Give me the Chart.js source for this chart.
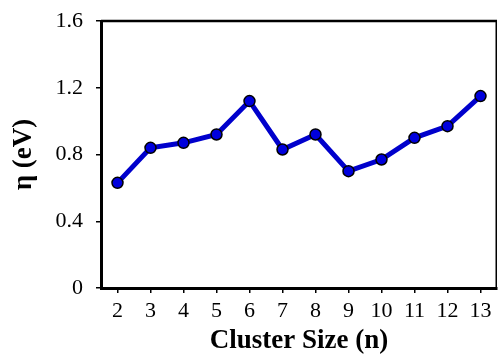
<!DOCTYPE html>
<html>
<head>
<meta charset="utf-8">
<script src="https://cdn.jsdelivr.net/npm/chart.js@4"></script>
<style>
  html, body { margin: 0; padding: 0; background: #fff; }
  #wrap { width: 498px; height: 357px; }
</style>
</head>
<body>
<div id="wrap"><canvas id="eta"></canvas></div>
<script>
const clusterSizes = ['2', '3', '4', '5', '6', '7', '8', '9', '10', '11', '12', '13'];
const etaValues = [0.63, 0.84, 0.87, 0.92, 1.12, 0.83, 0.92, 0.70, 0.77, 0.90, 0.97, 1.15];
const yTicks = [0, 0.4, 0.8, 1.2, 1.6];

// top and right edges of the frame
const framePlugin = {
    id: 'frame',
    afterDraw(chart) {
        const a = chart.chartArea;
        const c = chart.ctx;
        c.save();
        c.strokeStyle = '#000';
        c.lineWidth = 2.5;
        c.beginPath();
        c.moveTo(a.left, a.top);
        c.lineTo(a.right, a.top);
        c.stroke();
        c.lineWidth = 1.5;
        c.beginPath();
        c.moveTo(a.right - 0.75, a.top);
        c.lineTo(a.right - 0.75, a.bottom);
        c.stroke();
        c.restore();
    }
};

const ctxEta = document.getElementById('eta').getContext('2d');
const lineChart = new Chart(ctxEta, {
    type: 'line',
    data: {
        labels: clusterSizes,
        datasets: [{
            label: 'η (eV)',
            data: etaValues,
            borderColor: '#0000cc',
            borderWidth: 5,
            backgroundColor: '#0000dd',
            pointBackgroundColor: '#0000dd',
            pointBorderColor: '#000',
            pointBorderWidth: 1.5,
            pointRadius: 5.5,
            tension: 0,
            fill: false,
            clip: false
        }]
    },
    options: {
        responsive: true,
        maintainAspectRatio: false,
        animation: false,
        layout: { autoPadding: false, padding: { top: 21, right: 1, left: 0, bottom: 0 } },
        plugins: {
            legend: { display: false },
            tooltip: { enabled: false }
        },
        scales: {
            x: {
                offset: true,
                grid: { drawOnChartArea: false, color: '#000', tickLength: 5, lineWidth: 1.5, offset: false },
                border: { color: '#000', width: 3 },
                ticks: { color: '#000', padding: 5, font: { family: 'Liberation Serif', size: 22 }, maxRotation: 0 },
                title: {
                    display: true,
                    text: 'Cluster Size (n)',
                    color: '#000',
                    padding: 0,
                    font: { family: 'Liberation Serif', size: 27, weight: 'bold' }
                },
                afterFit(scale) {
                    scale.height = 69;
                    scale.paddingLeft = 0;
                    scale.paddingRight = 0;
                }
            },
            y: {
                min: 0,
                max: 1.6,
                afterBuildTicks(scale) { scale.ticks = yTicks.map(v => ({ value: v })); },
                grid: { drawOnChartArea: false, color: '#000', tickLength: 5, lineWidth: 1.5 },
                border: { color: '#000', width: 3 },
                ticks: { color: '#000', padding: 13, font: { family: 'Liberation Serif', size: 22 } },
                title: {
                    display: true,
                    text: 'η (eV)',
                    color: '#000',
                    padding: { top: 8, bottom: 0 },
                    font: { family: 'Liberation Serif', size: 27, weight: 'bold' }
                },
                afterFit(scale) {
                    scale.width = 101;
                    scale.paddingTop = 0;
                    scale.paddingBottom = 0;
                }
            }
        }
    },
    plugins: [framePlugin]
});
</script>
</body>
</html>
